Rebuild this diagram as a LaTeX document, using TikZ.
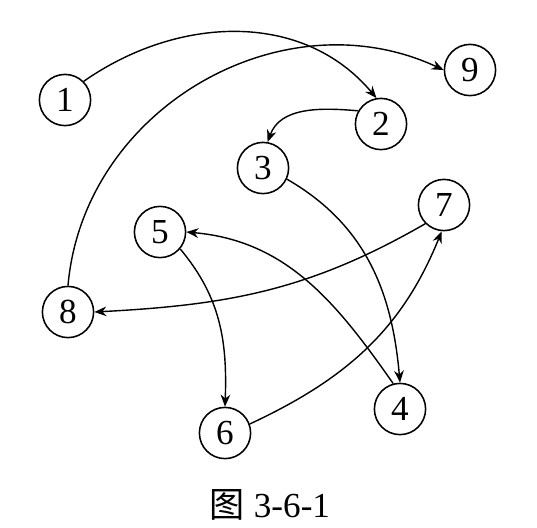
\documentclass[tikz,border=0pt]{standalone}
\usepackage{fontspec}
\setmainfont{Liberation Serif}
\newfontfamily\cjkfont{Noto Sans CJK SC}
\usepackage{tikz}
\usetikzlibrary{arrows.meta}

\begin{document}
\begin{tikzpicture}[x=0.025cm, y=0.025cm,
  every node/.style={font=\rmfamily\fontsize{25}{25}\selectfont},
  vtx/.style={draw, circle, line width=1.1pt, minimum size=1.28cm, inner sep=0pt},
  arc/.style={-{Stealth[length=3mm, width=2.4mm]}, line width=1pt}]

\useasboundingbox (0,0) rectangle (537,-527);

\node[vtx] (N1) at (65,-100) {1};
\node[vtx] (N2) at (381,-124) {2};
\node[vtx] (N3) at (263,-168) {3};
\node[vtx] (N4) at (400,-409) {4};
\node[vtx] (N5) at (160,-232) {5};
\node[vtx] (N6) at (225,-433) {6};
\node[vtx] (N7) at (444,-205) {7};
\node[vtx] (N8) at (68,-312) {8};
\node[vtx] (N9) at (470,-70) {9};

\node (cap) at (270,-505) {{\cjkfont 图} 3-6-1};

\draw[arc] (N1.45) to[out=35, in=130] (N2.100);
\draw[arc] (N8.north) to[out=85, in=155, looseness=1.05] (N9.west);
\draw[arc] (N2.150) to[out=175, in=70] (N3.80);
\draw[arc] (N3.-25) to[out=-30, in=95] (N4.north);
\draw[arc] (N7.225) to[out=210, in=3] (N8.east);
\draw[arc] (N4.105) to[out=125, in=-5] (N5.east);
\draw[arc] (N5.-40) to[out=-50, in=88] (N6.north);
\draw[arc] (N6.20) to[out=25, in=-112] (N7.-95);
\end{tikzpicture}
\end{document}
